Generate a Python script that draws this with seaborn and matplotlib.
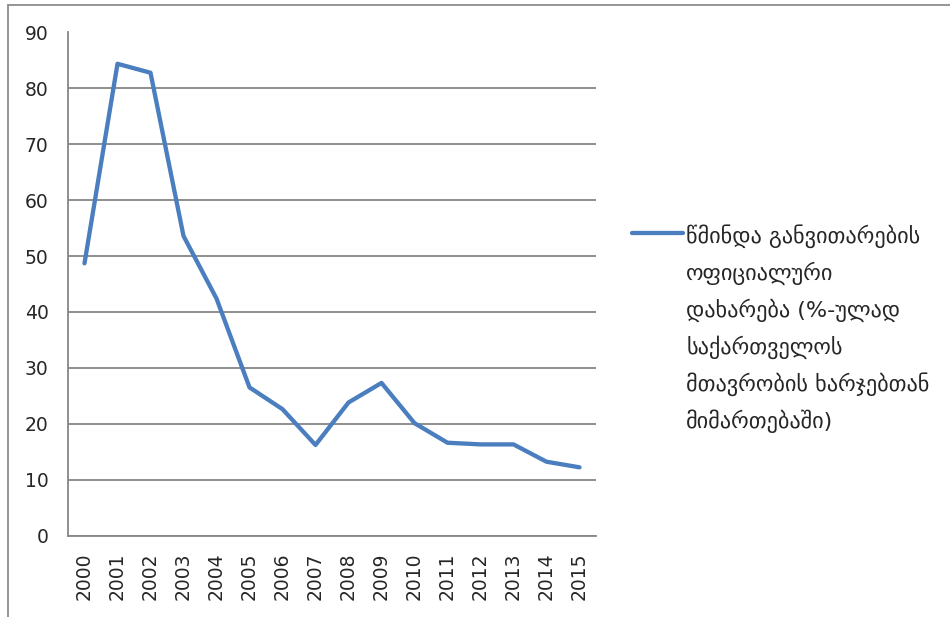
import numpy as np
import pandas as pd
import matplotlib
matplotlib.use("Agg")
import matplotlib.pyplot as plt
from matplotlib.lines import Line2D
import seaborn as sns

years = ["2000", "2001", "2002", "2003", "2004", "2005", "2006", "2007",
         "2008", "2009", "2010", "2011", "2012", "2013", "2014", "2015"]
aid_share = [48.7, 84.4, 82.8, 53.6, 42.4, 26.5, 22.6, 16.2,
             23.8, 27.3, 20.1, 16.6, 16.3, 16.3, 13.2, 12.2]
series_label = ("წმინდა განვითარების\nოფიციალური\nდახარება (%-ულად\n"
                "საქართველოს\nმთავრობის ხარჯებთან\nმიმართებაში)")
y_ticks = [0, 10, 20, 30, 40, 50, 60, 70, 80, 90]

sns.set_style("white")
plt.rcParams['font.family'] = ['DejaVu Sans']

df = pd.DataFrame({"year": years, "value": aid_share})

fig = plt.figure(figsize=(9.5, 6.17), dpi=100)
ax = fig.add_axes([68 / 950, 1 - 535.5 / 617, (596 - 68) / 950, (535.5 - 32.5) / 617])

grid_col = "#868686"
sns.lineplot(data=df, x="year", y="value", ax=ax, color="#4A7EBF", linewidth=3.1,
             label=series_label, sort=False)

ax.set_ylim(0, 90)
ax.set_xlim(-0.5, len(years) - 0.5)
ax.set_yticks(y_ticks)
ax.yaxis.grid(True, color=grid_col, linewidth=1.3)
ax.set_axisbelow(True)
ax.set_xlabel("")
ax.set_ylabel("")

# category axis: labels at centres, tick marks at the boundaries
ax.set_xticks(range(len(years)))
ax.set_xticklabels(years, rotation=90)
ax.set_xticks(np.arange(-0.5, len(years), 1.0), minor=True)
ax.tick_params(axis="x", which="major", length=0, pad=12, labelsize=13.5)
ax.tick_params(axis="x", which="minor", length=6, width=1.3, color=grid_col, direction="out")
ax.tick_params(axis="y", which="major", length=6, width=1.3, color=grid_col,
               direction="out", pad=8, labelsize=13.5)

for side in ["top", "right"]:
    ax.spines[side].set_visible(False)
for side in ["left", "bottom"]:
    ax.spines[side].set_color(grid_col)
    ax.spines[side].set_linewidth(1.3)

leg = ax.legend(loc="upper left", bbox_to_anchor=(632 / 950, 1 - 224 / 617),
                bbox_transform=fig.transFigure, frameon=False, fontsize=16,
                handlelength=2.3, handleheight=1.2, handletextpad=0.14,
                borderpad=0, borderaxespad=0)
for t in leg.get_texts():
    t.set_linespacing(1.74)
# put the legend line next to the first text line
for col in leg._legend_handle_box.get_children():
    for item in col.get_children():
        item.align = "top"

# outer chart frame (only top and left edges visible)
fig.add_artist(Line2D([8 / 950, 1.0], [1 - 5 / 617, 1 - 5 / 617], color="#8C8C8C", linewidth=1.3))
fig.add_artist(Line2D([8 / 950, 8 / 950], [0.0, 1 - 5 / 617], color="#8C8C8C", linewidth=1.3))

fig.savefig("out.png", dpi=100)
